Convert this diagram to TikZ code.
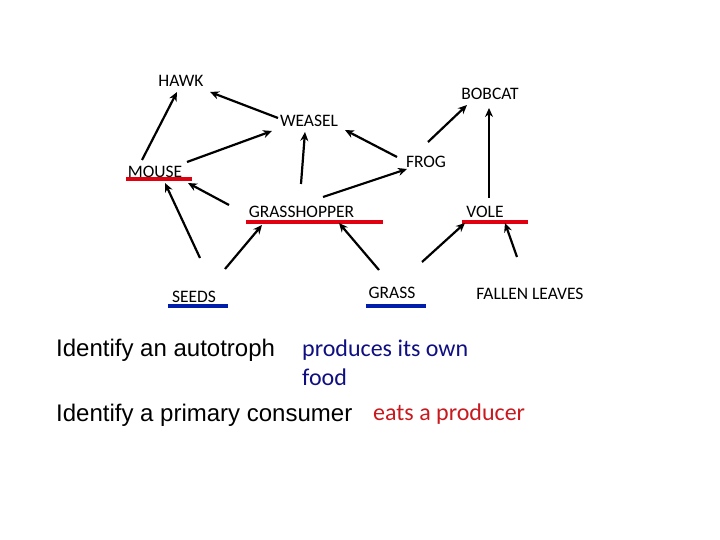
\documentclass[tikz,border=0pt]{standalone}
\usepackage{fontspec}
\setmainfont{Carlito}
\newfontfamily\arialfont{Liberation Sans}
\usetikzlibrary{arrows.meta}

\definecolor{lineblue}{RGB}{0,30,170}
\definecolor{linered}{RGB}{225,0,15}
\definecolor{textblue}{RGB}{15,15,130}
\definecolor{textred}{RGB}{200,25,30}

\tikzset{
  organism/.style={inner sep=0pt, font=\fontsize{17.5}{20}\selectfont},
  question/.style={inner sep=0pt, anchor=base west, font=\arialfont\fontsize{24}{29}\selectfont},
  answer/.style={inner sep=0pt, anchor=base west, align=left, font=\fontsize{24}{29}\selectfont},
  feeds/.style={->, line width=2.2pt},
  mark red/.style={line width=4pt, linered},
  mark blue/.style={line width=4pt, lineblue}
}

\begin{document}
\begin{tikzpicture}[x=1pt, y=-1pt, >={Stealth[length=9pt,width=8pt]}]
    % page frame
    \useasboundingbox (0,0) rectangle (720,540);

    % Organisms
    \node[organism] (hawk)   at (181,80.5)  {HAWK};
    \node[organism] (bobcat) at (490,94)    {BOBCAT};
    \node[organism] (weasel) at (309,120.5) {WEASEL};
    \node[organism] (frog)   at (426,161.5) {FROG};
    \node[organism] (mouse)  at (155,172)   {MOUSE};
    \node[organism] (grasshopper) at (301.5,211.5) {GRASSHOPPER};
    \node[organism] (vole)   at (485,212)   {VOLE};
    \node[organism] (seeds)  at (194,297)   {SEEDS};
    \node[organism] (grass)  at (392,293)   {GRASS};
    \node[organism] (leaves) at (530,293.5) {FALLEN LEAVES};

    % Underlines: consumers red, producers blue
    \draw[mark red]  (126,179) -- (192,179);
    \draw[mark red]  (246,222) -- (383,222);
    \draw[mark red]  (462,222) -- (528,222);
    \draw[mark blue] (168,306) -- (228,306);
    \draw[mark blue] (366,306) -- (426,306);

    % Who eats whom
    \draw[feeds] ([shift={(-13,-12)}]mouse.center) -- ([shift={(-4,11.5)}]hawk.center);
    \draw[feeds] ([shift={(-31,-2.5)}]weasel.center) -- ([shift={(29,11.5)}]hawk.center);
    \draw[feeds] ([shift={(32,-10)}]mouse.center) -- ([shift={(-37,10.5)}]weasel.center);
    \draw[feeds] ([shift={(-0.5,-27.5)}]grasshopper.center) -- ([shift={(-4,11.5)}]weasel.center);
    \draw[feeds] ([shift={(-29,-4.5)}]frog.center) -- ([shift={(36,9.5)}]weasel.center);
    \draw[feeds] ([shift={(21.5,-14.5)}]grasshopper.center) -- ([shift={(-19,7.5)}]frog.center);
    \draw[feeds] ([shift={(2,-19.5)}]frog.center) -- ([shift={(-23,11)}]bobcat.center);
    \draw[feeds] ([shift={(4,-14)}]vole.center) -- ([shift={(-1,14)}]bobcat.center);
    \draw[feeds] ([shift={(6,-39)}]seeds.center) -- ([shift={(10,11)}]mouse.center);
    \draw[feeds] ([shift={(-72.5,-6.5)}]grasshopper.center) -- ([shift={(33,11)}]mouse.center);
    \draw[feeds] ([shift={(31,-28)}]seeds.center) -- ([shift={(-39.5,13.5)}]grasshopper.center);
    \draw[feeds] ([shift={(-13,-23)}]grass.center) -- ([shift={(37.5,11.5)}]grasshopper.center);
    \draw[feeds] ([shift={(30,-31)}]grass.center) -- ([shift={(-20,11)}]vole.center);
    \draw[feeds] ([shift={(-13,-36.5)}]leaves.center) -- ([shift={(20,11)}]vole.center);

    % Questions and answers
    \node[question] (q1) at (56,356) {Identify an autotroph};
    \node[answer, text=textblue] (a1) at (302,385) {produces its own\\food};
    \node[question] (q2) at (56,421) {Identify a primary consumer};
    \node[answer, text=textred] (a2) at (373,420) {eats a producer};
\end{tikzpicture}
\end{document}
